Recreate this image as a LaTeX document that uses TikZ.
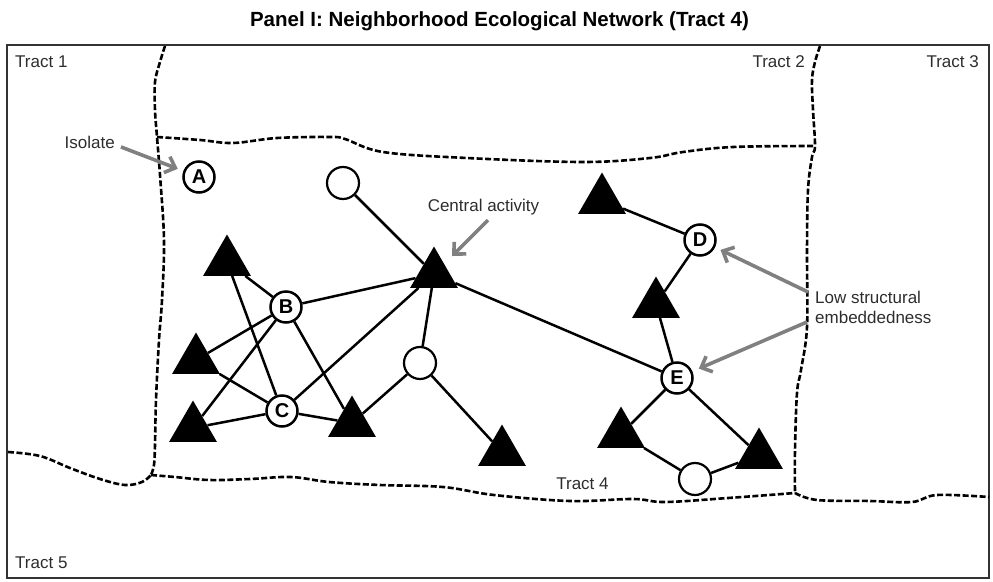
\documentclass[tikz,border=0pt]{standalone}
\usepackage{fontspec}
\setmainfont{Liberation Sans}
\usetikzlibrary{shapes.geometric,arrows.meta}
\definecolor{arrowgray}{RGB}{128,128,128}
\definecolor{labelgray}{RGB}{45,45,45}
\begin{document}
\begin{tikzpicture}[x=1pt,y=-1pt,
  edge/.style={line width=2.5pt, black},
  tri/.style={regular polygon, regular polygon sides=3, fill=black, inner sep=0pt, minimum size=55pt},
  lett/.style={circle, draw=black, fill=white, line width=2.5pt, inner sep=0pt, minimum size=31pt, font=\fontsize{20}{20}\selectfont\bfseries},
  emp/.style={circle, draw=black, fill=white, line width=2.2pt, inner sep=0pt, minimum size=32pt},
  lab/.style={inner sep=0pt, text=labelgray, font=\fontsize{17}{20}\selectfont},
  bound/.style={line width=2.6pt, dash pattern=on 6pt off 2.5pt, black},
  callout/.style={line width=3.6pt, arrowgray, -{Straight Barb[length=9pt,width=17pt]}}
]
\useasboundingbox (0,0) rectangle (993,581);
% title
\node[inner sep=0pt, anchor=base, font=\fontsize{20.5}{24}\selectfont\bfseries] (title) at (499.5,26) {Panel I: Neighborhood Ecological Network (Tract 4)};
% frame
\draw[line width=2.6pt, black!80] (7,45) rectangle (989,578);
% tract boundaries
\draw[bound] plot[smooth, tension=0.6] coordinates {(165,46) (160,62) (155,82) (155,110) (157,137) (160,175) (164,240) (162,300) (159,340) (156,400) (155,445) (154,465) (151,475)};
\draw[bound] plot[smooth, tension=0.6] coordinates {(8,452) (40,456) (70,468) (100,479) (125,485) (142,482) (151,475)};
\draw[bound] plot[smooth, tension=0.6] coordinates {(151,475) (175,477) (209,480) (250,479) (291,477) (329,482) (380,485) (443,487) (494,495) (570,501) (633,499) (665,502) (728,498) (795,493)};
\draw[bound] plot[smooth, tension=0.6] coordinates {(795,493) (817,500) (870,501) (912,502) (937,495) (989,497)};
\draw[bound] plot[smooth, tension=0.6] coordinates {(157,137) (200,140) (233,143) (277,138) (330,137) (345,139) (383,152) (467,158) (583,162) (650,158) (683,152) (733,147) (815,146)};
\draw[bound] plot[smooth, tension=0.6] coordinates {(820,46) (815,62) (812,80) (813,110) (815,146) (812,157) (808,190) (807,250) (807,327) (801,370) (797,393) (795,450) (795,493)};
% tract labels
\node[lab, anchor=base west] (t1) at (15,67) {Tract 1};
\node[lab, anchor=base east] (t2) at (805,67) {Tract 2};
\node[lab, anchor=base east] (t3) at (979,67) {Tract 3};
\node[lab, anchor=base] (t4) at (582.5,489) {Tract 4};
\node[lab, anchor=base west] (t5) at (15,568) {Tract 5};
% network nodes
\node[lett] (A) at (199,177) {A};
\node[lett] (B) at (286,307) {B};
\node[lett] (C) at (282,411) {C};
\node[lett] (D) at (700,240) {D};
\node[lett] (E) at (677,378) {E};
\node[emp] (O1) at (343,183) {};
\node[emp] (O2) at (420,363) {};
\node[emp] (O3) at (695,479) {};
\node[tri] (T1) at (227,262) {};
\node[tri] (T2) at (196,360) {};
\node[tri] (T3) at (193,428) {};
\node[tri] (T4) at (352,423) {};
\node[tri] (TC) at (434,274) {};
\node[tri] (T5) at (502,452) {};
\node[tri] (T6) at (602,200) {};
\node[tri] (T7) at (656,304) {};
\node[tri] (T8) at (621,434) {};
\node[tri] (T9) at (759,455) {};
% edges
\begin{scope}[edge]
\draw (T1) -- (B);
\draw (T1) -- (C);
\draw (T2) -- (B);
\draw (T2) -- (C);
\draw (T3) -- (B);
\draw (T3) -- (C);
\draw (B) -- (T4);
\draw (B) -- (TC);
\draw (C) -- (T4);
\draw (C) -- (TC);
\draw (TC) -- (O1);
\draw (TC) -- (O2);
\draw (TC) -- (E);
\draw (O2) -- (T4);
\draw (O2) -- (T5);
\draw (T6) -- (D);
\draw (D) -- (T7);
\draw (T7) -- (E);
\draw (E) -- (T8);
\draw (E) -- (T9);
\draw (T8) -- (O3);
\draw (O3) -- (T9);
\end{scope}
% annotations
\node[lab, anchor=base] (iso) at (89.7,148) {Isolate};
\node[lab, anchor=base] (ca) at (483.5,211) {Central activity};
\node[lab, anchor=west, align=left] (lse) at (815,307) {Low structural\\embeddedness};
\draw[callout, shorten >=6pt] ([xshift=6pt,yshift=-5pt]iso.east) -- (A);
\draw[callout, shorten >=11pt] ([xshift=4.5pt,yshift=-5.4pt]ca.south) -- (TC);
\draw[callout, shorten >=6pt] ([xshift=-7pt,yshift=15pt]lse.west) -- (D);
\draw[callout, shorten >=7pt] ([xshift=-8pt,yshift=-15pt]lse.west) -- (E);
\end{tikzpicture}
\end{document}
